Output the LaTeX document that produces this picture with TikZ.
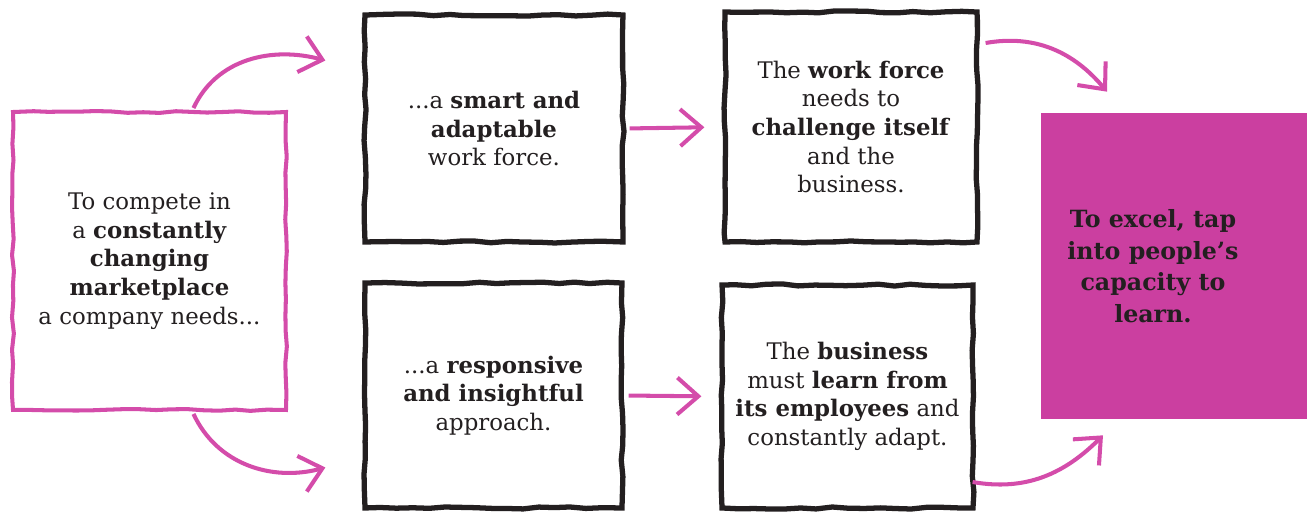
\documentclass[tikz,border=0pt]{standalone}
\usepackage{fontspec}
\setmainfont{DejaVu Serif}
\usetikzlibrary{arrows.meta,calc,decorations.pathmorphing}

\definecolor{inkpink}{RGB}{212,76,170}
\definecolor{tapmagenta}{RGB}{203,63,160}
\definecolor{inkdark}{RGB}{35,31,32}

\begin{document}
\begin{tikzpicture}[x=0.02cm, y=0.02cm,
  sketch/.style={decorate, decoration={random steps, segment length=9pt, amplitude=0.6pt}},
  inkbox/.style={draw=inkdark, line width=3pt, sketch, align=center, inner sep=0pt,
    font=\fontsize{13}{16.3}\selectfont, text=inkdark},
  pinkbox/.style={inkbox, draw=inkpink, line width=2.3pt},
  tapbox/.style={fill=tapmagenta, inner sep=0pt},
  taptext/.style={align=center, inner sep=0pt, font=\fontsize{13.5}{18}\selectfont\bfseries, text=inkdark},
  flow/.style={draw=inkpink, line width=2.3pt, -{Straight Barb[length=12pt,width=21pt]}}]

\pgfmathsetseed{11}
\useasboundingbox (0,0) rectangle (1309,511);

% ===== Starting point =====

\node[pinkbox, minimum width=5.46cm, minimum height=5.96cm] (market) at (149.5,250)
  {To compete in\\ a \textbf{constantly}\\ \textbf{changing}\\ \textbf{marketplace}\\ a company needs...};

% ===== What is needed =====

\node[inkbox, minimum width=5.16cm, minimum height=4.54cm] (smart) at (494,382.5)
  {...a \textbf{smart and}\\ \textbf{adaptable}\\ work force.};
\node[inkbox, minimum width=5.14cm, minimum height=4.5cm] (insight) at (493.5,115.5)
  {...a \textbf{responsive}\\ \textbf{and insightful}\\ approach.};

% ===== What follows =====

\node[inkbox, minimum width=5.04cm, minimum height=4.6cm] (challenge) at (851,384)
  {The \textbf{work force}\\ needs to\\ \textbf{challenge itself}\\ and the\\ business.};
\node[inkbox, minimum width=5.02cm, minimum height=4.46cm] (learnfrom) at (847.5,114.5)
  {The \textbf{business}\\ must \textbf{learn from}\\ \textbf{its employees} and\\ constantly adapt.};

% ===== Goal =====

\node[tapbox, minimum width=5.32cm, minimum height=6.12cm,
  label={[taptext, xshift=-0.42cm]center:{To excel, tap\\ into people’s\\ capacity to\\ learn.}}]
  (excel) at (1174,245) {};

% ===== Arrows =====

\draw[flow] ($(market.north)+(44,2)$) to[out=65,in=165] ($(smart.west)+(-37,68)$);
\draw[flow] ($(market.south)+(44,-2)$) to[out=-65,in=195] ($(insight.west)+(-37,-72)$);

\draw[flow, shorten <=0.08cm, shorten >=0.36cm] (smart.east) -- (challenge.west);
\draw[flow, shorten <=0.08cm, shorten >=0.36cm] (insight.east) -- (learnfrom.west);

\draw[flow] ($(challenge.east)+(6,84)$) to[out=10,in=130] ($(excel.north)+(-67,21)$);
\draw[flow] ($(learnfrom.east)+(-3,-85.5)$) to[out=-10,in=225] ($(excel.south)+(-71,-16)$);

\end{tikzpicture}
\end{document}
